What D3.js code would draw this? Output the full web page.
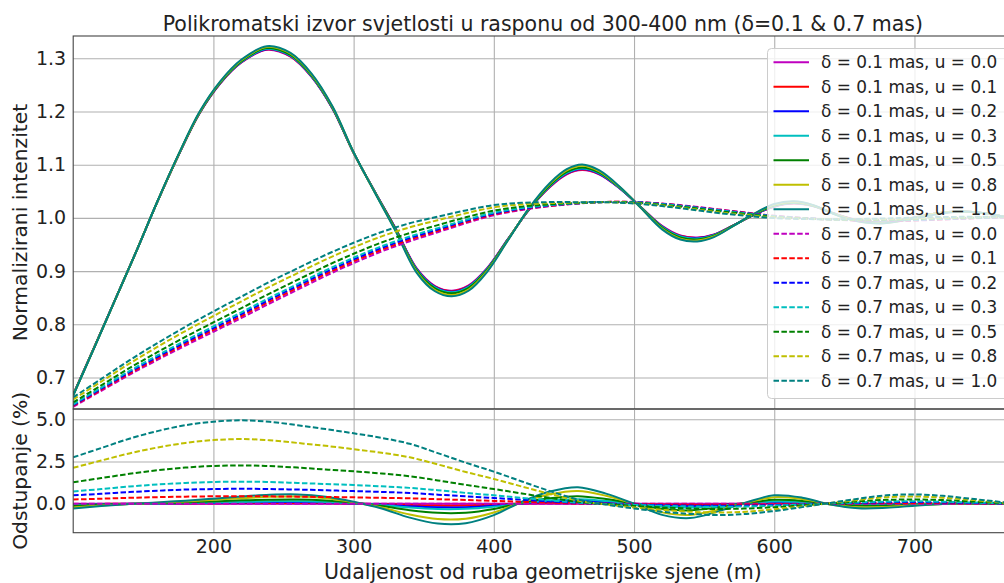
<!DOCTYPE html>
<html><head><meta charset="utf-8">
<script src="https://cdn.jsdelivr.net/npm/d3@7"></script>
<style>body{margin:0;background:#fff}svg{display:block;font-family:"DejaVu Sans",sans-serif}</style>
</head><body><svg id="c" width="1004" height="583"></svg>
<script>
// ---------- DATA ----------
const title = "Polikromatski izvor svjetlosti u rasponu od 300-400 nm (δ=0.1 & 0.7 mas)";
const xLabel = "Udaljenost od ruba geometrijske sjene (m)";
const yLabelTop = "Normalizirani intenzitet";
const yLabelBottom = "Odstupanje (%)";
const xTicks = [200, 300, 400, 500, 600, 700];
const yTicksTop = [0.7, 0.8, 0.9, 1.0, 1.1, 1.2, 1.3];
const yTicksBottom = [0.0, 2.5, 5.0];
const uValues = ["0.0", "0.1", "0.2", "0.3", "0.5", "0.8", "1.0"];
const deltas = ["0.1", "0.7"];
const seriesColors = ["#bf00bf", "#ff0000", "#0000ff", "#00bfbf", "#008000", "#bfbf00", "#008080"];

// x positions of the solid (δ = 0.1) intensity curves
const xsSolid = [100,115,130,145,160,175,190,205,220,238,255,270,285,300,315,330,345,358,370,382,395,410,425,440,452,463,475,490,505,520,533,545,557,570,585,600,614,628,642,656,676,695,714,733,752,770,785,800];
// x positions for dashed intensity curves and all deviation curves
const xs = [100,120,140,160,180,200,220,240,260,280,300,320,340,360,380,400,420,440,460,480,500,520,540,560,580,600,620,640,660,680,700,720,740,760,780,800];

// top panel, δ = 0.1 mas (solid)
const intD01_u00 = [0.668,0.757,0.847,0.937,1.030,1.117,1.196,1.253,1.292,1.316,1.303,1.265,1.205,1.122,1.050,0.980,0.905,0.872,0.863,0.873,0.905,0.960,1.015,1.058,1.082,1.090,1.082,1.055,1.020,0.985,0.967,0.963,0.969,0.985,1.005,1.021,1.027,1.022,1.009,0.998,0.992,0.998,1.008,1.012,1.008,0.999,0.996,0.999];
const intD01_u01 = [0.6678,0.7569,0.8469,0.937,1.0300,1.1172,1.1962,1.2534,1.2925,1.3166,1.3036,1.2656,1.2053,1.1221,1.0498,0.9795,0.9043,0.8711,0.8621,0.8722,0.9043,0.9597,1.0153,1.0587,1.0828,1.0909,1.0827,1.0553,1.0198,0.9844,0.9663,0.9624,0.9685,0.9848,1.0052,1.0215,1.0274,1.0222,1.0089,0.9977,0.9918,0.9979,1.008,1.012,1.008,0.999,0.996,0.999];
const intD01_u02 = [0.6677,0.7568,0.8469,0.937,1.0301,1.1173,1.1965,1.2538,1.2930,1.3172,1.3043,1.2661,1.2057,1.1222,1.0497,0.9790,0.9036,0.8702,0.8611,0.8713,0.9037,0.9595,1.0155,1.0594,1.0837,1.0919,1.0834,1.0555,1.0197,0.9838,0.9656,0.9617,0.9680,0.9847,1.0054,1.0219,1.0278,1.0224,1.0088,0.9975,0.9915,0.9978,1.008,1.012,1.008,0.999,0.996,0.999];
const intD01_u03 = [0.6675,0.7566,0.8468,0.937,1.0302,1.1174,1.1967,1.2541,1.2934,1.3178,1.3050,1.2666,1.2062,1.1223,1.0495,0.9785,0.9028,0.8694,0.8602,0.8704,0.9031,0.9593,1.0158,1.0600,1.0845,1.0927,1.0841,1.0558,1.0195,0.9833,0.9650,0.9611,0.9676,0.9846,1.0055,1.0223,1.0281,1.0225,1.0087,0.9973,0.9913,0.9977,1.0079,1.0121,1.0081,0.999,0.996,0.999];
const intD01_u05 = [0.6671,0.7564,0.8467,0.937,1.0304,1.1178,1.1973,1.2549,1.2946,1.3192,1.3063,1.2679,1.2070,1.1227,1.0492,0.9776,0.9012,0.8675,0.8583,0.8685,0.9017,0.9588,1.0164,1.0615,1.0863,1.0948,1.0855,1.0565,1.0192,0.9820,0.9634,0.9596,0.9667,0.9843,1.0059,1.0233,1.0290,1.0229,1.0084,0.9968,0.9908,0.9974,1.0078,1.0121,1.0081,0.999,0.996,0.999];
const intD01_u08 = [0.6665,0.7560,0.8465,0.937,1.0306,1.1183,1.1983,1.2563,1.2963,1.3213,1.3086,1.2699,1.2084,1.1230,1.0485,0.9758,0.8986,0.8643,0.8550,0.8653,0.8994,0.9580,1.0173,1.0639,1.0894,1.0981,1.0878,1.0574,1.0187,0.9800,0.9610,0.9574,0.9650,0.9838,1.0066,1.0250,1.0304,1.0236,1.0081,0.9961,0.9901,0.9970,1.0077,1.0122,1.0082,0.9991,0.996,0.9989];
const intD01_u10 = [0.6661,0.7557,0.8463,0.937,1.0308,1.1188,1.1989,1.2571,1.2976,1.3228,1.3102,1.2713,1.2093,1.1233,1.0481,0.9746,0.8968,0.8621,0.8526,0.8631,0.8978,0.9574,1.0180,1.0656,1.0915,1.1004,1.0896,1.0582,1.0183,0.9785,0.9593,0.9558,0.9639,0.9835,1.0070,1.0261,1.0313,1.0240,1.0078,0.9955,0.9895,0.9967,1.0060,1.0122,1.0083,0.9991,0.996,0.9989];

// top panel, δ = 0.7 mas (dashed)
const intD07_u00 = [0.645,0.675,0.705,0.733,0.760,0.786,0.812,0.839,0.865,0.891,0.915,0.937,0.956,0.973,0.990,1.005,1.015,1.022,1.027,1.030,1.030,1.027,1.022,1.016,1.010,1.004,1.000,0.997,0.995,0.994,0.995,0.997,0.999,1.001,1.002,1.002];
const intD07_u01 = [0.6466,0.6770,0.7075,0.7359,0.7632,0.7895,0.8156,0.8427,0.8686,0.8946,0.9185,0.9403,0.9591,0.9756,0.9922,1.0067,1.0162,1.0227,1.0272,1.0300,1.0297,1.0266,1.0215,1.0154,1.0095,1.0036,0.9998,0.9970,0.9953,0.9945,0.9955,0.9974,0.9993,1.0011,1.0020,1.0019];
const intD07_u02 = [0.6482,0.6790,0.7099,0.7386,0.7664,0.7928,0.8192,0.8463,0.8723,0.8981,0.9219,0.9436,0.9621,0.9783,0.9944,1.0084,1.0174,1.0234,1.0275,1.0299,1.0295,1.0262,1.0209,1.0148,1.0089,1.0032,0.9996,0.9971,0.9955,0.9949,0.9960,0.9978,0.9995,1.0012,1.0019,1.0017];
const intD07_u03 = [0.6497,0.6809,0.7122,0.7414,0.7693,0.7961,0.8226,0.8498,0.8756,0.9014,0.9252,0.9467,0.9650,0.9808,0.9963,1.0100,1.0186,1.0240,1.0277,1.0299,1.0293,1.0258,1.0204,1.0142,1.0084,1.0029,0.9995,0.9971,0.9958,0.9953,0.9965,0.9982,0.9998,1.0013,1.0019,1.0016];
const intD07_u05 = [0.6532,0.6853,0.7175,0.7475,0.7763,0.8036,0.8304,0.8577,0.8835,0.9091,0.9326,0.9538,0.9716,0.9864,1.0011,1.0137,1.0212,1.0256,1.0282,1.0298,1.0287,1.0247,1.0191,1.0129,1.0072,1.0020,0.9991,0.9972,0.9964,0.9963,0.9975,0.9992,1.0004,1.0016,1.0018,1.0013];
const intD07_u08 = [0.6587,0.6923,0.7260,0.7574,0.7874,0.8156,0.8431,0.8705,0.8961,0.9216,0.9446,0.9653,0.9823,0.9957,1.0086,1.0198,1.0254,1.0279,1.0290,1.0296,1.0277,1.0233,1.0172,1.0107,1.0053,1.0007,0.9984,0.9974,0.9973,0.9979,0.9993,1.0006,1.0013,1.0019,1.0016,1.0008];
const intD07_u10 = [0.6627,0.6973,0.7321,0.7645,0.7953,0.8242,0.8521,0.8797,0.9052,0.9304,0.9532,0.9735,0.9899,1.0022,1.0141,1.0241,1.0284,1.0297,1.0296,1.0295,1.0271,1.0222,1.0159,1.0092,1.0039,0.9997,0.9980,0.9975,0.9980,0.9990,1.0005,1.0017,1.0020,1.0022,1.0015,1.0005];

// bottom panel, deviation (%), δ = 0.1 mas (solid)
const devD01_u00 = [0,0,0,0,0,0,0,0,0,0,0,0,0,0,0,0,0,0,0,0,0,0,0,0,0,0,0,0,0,0,0,0,0,0,0,0];
const devD01_u01 = [-0.03,-0.01,0.0,0.01,0.02,0.03,0.04,0.05,0.05,0.04,0.01,-0.03,-0.07,-0.11,-0.10,-0.06,0.01,0.06,0.09,0.05,0.0,-0.06,-0.08,-0.04,0.01,0.05,0.03,0.0,-0.02,-0.02,-0.01,0.0,0.0,0.0,0.0,0.0];
const devD01_u02 = [-0.05,-0.03,0.0,0.01,0.03,0.05,0.08,0.10,0.10,0.08,0.02,-0.05,-0.15,-0.21,-0.21,-0.12,0.02,0.13,0.18,0.11,0.0,-0.12,-0.15,-0.08,0.01,0.09,0.06,-0.01,-0.05,-0.04,-0.02,0.0,0.01,0.0,0.0,0.0];
const devD01_u03 = [-0.07,-0.04,-0.01,0.02,0.05,0.08,0.11,0.14,0.15,0.11,0.03,-0.07,-0.22,-0.31,-0.30,-0.18,0.03,0.19,0.26,0.16,0.0,-0.17,-0.23,-0.12,0.02,0.13,0.10,-0.01,-0.07,-0.06,-0.03,-0.01,0.01,0.01,0.0,0.0];
const devD01_u05 = [-0.13,-0.06,-0.01,0.04,0.08,0.14,0.20,0.24,0.25,0.19,0.06,-0.13,-0.38,-0.54,-0.53,-0.31,0.06,0.33,0.45,0.28,0.0,-0.30,-0.39,-0.21,0.04,0.23,0.17,-0.02,-0.12,-0.11,-0.06,-0.01,0.01,0.01,0.0,0.0];
const devD01_u08 = [-0.22,-0.11,-0.02,0.06,0.14,0.23,0.33,0.41,0.43,0.33,0.09,-0.22,-0.64,-0.91,-0.89,-0.52,0.09,0.56,0.76,0.47,0.0,-0.51,-0.66,-0.35,0.06,0.39,0.28,-0.04,-0.21,-0.19,-0.09,-0.02,0.02,0.02,0.0,-0.01];
const devD01_u10 = [-0.28,-0.14,-0.02,0.08,0.18,0.30,0.43,0.53,0.55,0.42,0.12,-0.28,-0.82,-1.17,-1.15,-0.67,0.12,0.72,0.98,0.60,0.0,-0.66,-0.85,-0.45,0.08,0.50,0.36,-0.05,-0.27,-0.24,-0.12,-0.02,0.03,0.02,0.0,-0.01];

// bottom panel, deviation (%), δ = 0.7 mas (dashed)
const devD07_u00 = [0,0,0,0,0,0,0,0,0,0,0,0,0,0,0,0,0,0,0,0,0,0,0,0,0,0,0,0,0,0,0,0,0,0,0,0];
const devD07_u01 = [0.25,0.30,0.35,0.39,0.42,0.44,0.44,0.44,0.42,0.40,0.38,0.35,0.32,0.27,0.22,0.17,0.12,0.07,0.02,0.0,-0.03,-0.04,-0.05,-0.06,-0.05,-0.04,-0.02,0.0,0.03,0.05,0.05,0.04,0.03,0.01,0.0,-0.01];
const devD07_u02 = [0.50,0.59,0.69,0.77,0.84,0.87,0.89,0.87,0.84,0.80,0.75,0.70,0.64,0.54,0.44,0.34,0.24,0.14,0.05,-0.01,-0.05,-0.08,-0.11,-0.12,-0.11,-0.08,-0.04,0.01,0.05,0.09,0.10,0.08,0.05,0.02,-0.01,-0.03];
const devD07_u03 = [0.73,0.87,1.02,1.14,1.23,1.29,1.31,1.29,1.23,1.17,1.11,1.03,0.94,0.80,0.64,0.50,0.35,0.20,0.07,-0.01,-0.07,-0.12,-0.16,-0.18,-0.16,-0.11,-0.05,0.01,0.08,0.13,0.15,0.12,0.08,0.03,-0.01,-0.04];
const devD07_u05 = [1.27,1.52,1.77,1.98,2.14,2.24,2.27,2.23,2.14,2.03,1.92,1.79,1.63,1.38,1.12,0.87,0.61,0.35,0.12,-0.02,-0.13,-0.22,-0.28,-0.31,-0.28,-0.20,-0.09,0.02,0.14,0.23,0.25,0.22,0.14,0.06,-0.02,-0.07];
const devD07_u08 = [2.13,2.56,2.98,3.33,3.60,3.77,3.83,3.76,3.60,3.43,3.23,3.02,2.75,2.33,1.88,1.47,1.02,0.58,0.19,-0.04,-0.22,-0.36,-0.47,-0.52,-0.47,-0.33,-0.16,0.04,0.23,0.39,0.43,0.36,0.23,0.09,-0.04,-0.12];
const devD07_u10 = [2.75,3.30,3.85,4.30,4.65,4.86,4.94,4.85,4.65,4.42,4.17,3.90,3.55,3.00,2.43,1.90,1.32,0.75,0.25,-0.05,-0.28,-0.47,-0.60,-0.67,-0.60,-0.43,-0.20,0.05,0.30,0.50,0.55,0.47,0.30,0.12,-0.05,-0.15];

const topSolid = [intD01_u00,intD01_u01,intD01_u02,intD01_u03,intD01_u05,intD01_u08,intD01_u10];
const topDashed = [intD07_u00,intD07_u01,intD07_u02,intD07_u03,intD07_u05,intD07_u08,intD07_u10];
const botSolid = [devD01_u00,devD01_u01,devD01_u02,devD01_u03,devD01_u05,devD01_u08,devD01_u10];
const botDashed = [devD07_u00,devD07_u01,devD07_u02,devD07_u03,devD07_u05,devD07_u08,devD07_u10];

// ---------- LAYOUT ----------
const svg = d3.select("#c");
const L = 73.2, R = 1012.6;
const topY0 = 36, topY1 = 409, botY0 = 409, botY1 = 532.7;
const x = d3.scaleLinear().domain([100, 770]).range([L, R]);
const yTop = d3.scaleLinear().domain([0.6408, 1.3419]).range([topY1, topY0]);
const yBot = d3.scaleLinear().domain([-1.714, 5.61]).range([botY1, botY0]);
const gridCol = "#b0b0b0", spineCol = "#444";
const DASH = "5.5,2.4", LW = 2;
const TICK_FS = 19;

const defs = svg.append("defs");
defs.append("clipPath").attr("id","ct").append("rect").attr("x",L).attr("y",topY0).attr("width",R-L).attr("height",topY1-topY0);
defs.append("clipPath").attr("id","cb").append("rect").attr("x",L).attr("y",botY0).attr("width",R-L).attr("height",botY1-botY0);

function panel(yS, yTicks, fmt, y0, y1, clip, solidData, dashedData, xsSolidArr) {
  const g = svg.append("g");
  g.append("g").attr("transform",`translate(0,${y1})`)
    .call(d3.axisBottom(x).tickValues(xTicks).tickSize(-(y1-y0)).tickFormat(""))
    .call(a=>a.select(".domain").remove())
    .call(a=>a.selectAll("line").attr("stroke",gridCol).attr("stroke-width",1.1));
  g.append("g").attr("transform",`translate(${L},0)`)
    .call(d3.axisLeft(yS).tickValues(yTicks).tickSize(-(R-L)).tickFormat(""))
    .call(a=>a.select(".domain").remove())
    .call(a=>a.selectAll("line").attr("stroke",gridCol).attr("stroke-width",1.1));
  g.append("g").attr("transform",`translate(${L},0)`)
    .call(d3.axisLeft(yS).tickValues(yTicks).tickSize(0).tickPadding(7).tickFormat(fmt))
    .call(a=>a.select(".domain").remove())
    .call(a=>a.selectAll("text").attr("font-size",TICK_FS).attr("fill","#222").attr("font-family","DejaVu Sans"));
  const lines = g.append("g").attr("clip-path",`url(#${clip})`);
  const lineS = d3.line().x((d,i)=>x(xsSolidArr[i])).y(d=>yS(d)).curve(d3.curveCatmullRom.alpha(0.5));
  const lineD = d3.line().x((d,i)=>x(xs[i])).y(d=>yS(d)).curve(d3.curveCatmullRom.alpha(0.5));
  solidData.forEach((s,k)=>lines.append("path").attr("d",lineS(s)).attr("fill","none")
    .attr("stroke",seriesColors[k]).attr("stroke-width",LW));
  dashedData.forEach((s,k)=>lines.append("path").attr("d",lineD(s)).attr("fill","none")
    .attr("stroke",seriesColors[k]).attr("stroke-width",LW).attr("stroke-dasharray",DASH));
  g.append("rect").attr("x",L).attr("y",y0).attr("width",R-L).attr("height",y1-y0)
    .attr("fill","none").attr("stroke",spineCol).attr("stroke-width",1.1);
  return g;
}
panel(yTop, yTicksTop, d3.format(".1f"), topY0, topY1, "ct", topSolid, topDashed, xsSolid);
panel(yBot, yTicksBottom, d3.format(".1f"), botY0, botY1, "cb", botSolid, botDashed, xs);

svg.append("g").attr("transform",`translate(0,${botY1})`)
  .call(d3.axisBottom(x).tickValues(xTicks).tickSize(0).tickPadding(7).tickFormat(d3.format("d")))
  .call(a=>a.select(".domain").remove())
  .call(a=>a.selectAll("text").attr("font-size",TICK_FS).attr("fill","#222").attr("font-family","DejaVu Sans"));

svg.append("text").attr("x",(L+R)/2).attr("y",31).attr("text-anchor","middle").attr("font-size",20.5).attr("fill","#222").text(title);
svg.append("text").attr("x",(L+R)/2).attr("y",579).attr("text-anchor","middle").attr("font-size",20.5).attr("fill","#222").text(xLabel);
svg.append("text").attr("transform",`translate(27,${(topY0+topY1)/2}) rotate(-90)`).attr("text-anchor","middle").attr("font-size",20.3).attr("fill","#222").text(yLabelTop);
svg.append("text").attr("transform",`translate(27,${(botY0+botY1)/2}) rotate(-90)`).attr("text-anchor","middle").attr("font-size",20.3).attr("fill","#222").text(yLabelBottom);

const lg = svg.append("g");
lg.append("rect").attr("x",767.5).attr("y",48.5).attr("width",244).attr("height",350).attr("rx",4)
  .attr("fill","white").attr("fill-opacity",0.8).attr("stroke","#cccccc").attr("stroke-width",1);
const entries = [];
deltas.forEach((dl,di)=>uValues.forEach((u,ui)=>entries.push({label:`δ = ${dl} mas, u = ${u}`, color:seriesColors[ui], dashed:di===1})));
entries.forEach((e,i)=>{
  const yy = 62.3 + i*24.49;
  lg.append("line").attr("x1",773.5).attr("x2",809).attr("y1",yy).attr("y2",yy)
    .attr("stroke",e.color).attr("stroke-width",LW).attr("stroke-dasharray",e.dashed?DASH:null);
  lg.append("text").attr("x",821).attr("y",yy).attr("dy","0.35em").attr("font-size",16.9).attr("fill","#222").text(e.label);
});
</script></body></html>
